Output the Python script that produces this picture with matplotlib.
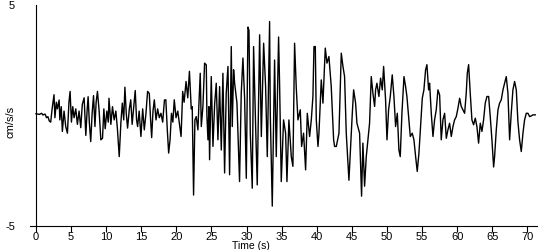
import matplotlib
matplotlib.use("Agg")
import matplotlib.pyplot as plt

# 读图得到的加速度记录 (时间 s, 加速度 cm/s/s)
time_s = [
    0.0, 0.5, 0.8, 1.0, 1.14, 1.3, 1.5, 1.7, 1.9, 2.1, 2.3, 2.57, 2.7, 2.9, 3.05, 3.3, 3.4, 3.6,
    3.76, 4.0, 4.24, 4.48, 4.7, 4.86, 5.05, 5.24, 5.43, 5.67, 5.9, 6.14, 6.38, 6.6, 6.86, 7.1,
    7.3, 7.43, 7.6, 7.8, 8.0, 8.2, 8.4, 8.57, 8.76, 9.0, 9.24, 9.48, 9.67, 9.86, 10.1, 10.3,
    10.4, 10.67, 10.9, 11.14, 11.38, 11.6, 11.86, 12.1, 12.3, 12.5, 12.67, 12.86, 13.05, 13.3,
    13.5, 13.7, 13.9, 14.14, 14.33, 14.48, 14.7, 14.95, 15.2, 15.43, 15.67, 15.9, 16.14, 16.33,
    16.48, 16.67, 16.86, 17.1, 17.33, 17.57, 17.8, 18.05, 18.3, 18.5, 18.7, 18.9, 19.1, 19.3,
    19.5, 19.7, 19.95, 20.2, 20.4, 20.67, 20.9, 21.1, 21.38, 21.62, 21.86,
    22.12, 22.26, 22.45, 22.64, 22.83, 23.07, 23.21, 23.4, 23.55, 23.78, 24.02, 24.26, 24.35,
    24.5, 24.64, 24.73, 24.97, 25.21, 25.45, 25.68, 25.92, 26.16, 26.4, 26.63, 26.87, 27.1,
    27.35, 27.58, 27.82, 27.96, 28.15, 28.3, 28.63, 29.0, 29.24, 29.48, 29.72, 29.96, 30.2,
    30.34, 30.53, 30.81, 31.0, 31.29, 31.52, 31.86, 32.1, 32.43, 32.71, 32.95, 33.28, 33.38,
    33.66, 33.99, 34.23, 34.56, 34.7, 34.94, 35.27, 35.56, 35.75, 36.03, 36.37, 36.6, 36.84,
    37.08, 37.32, 37.65, 37.84, 38.12, 38.41, 38.65, 38.98, 39.22, 39.45, 39.6, 39.79, 39.93,
    40.17, 40.31, 40.64, 40.88, 41.21, 41.45, 41.73, 42.06, 42.4, 42.54, 42.78, 43.16, 43.49,
    43.73, 43.96, 44.2, 44.58, 44.77, 45.06, 45.25, 45.53, 45.72, 46.1, 46.38,
    46.57, 46.81, 47.05, 47.29, 47.52, 47.76, 48.0, 48.24, 48.38, 48.57, 48.85, 49.09, 49.33,
    49.52, 49.8, 50.0, 50.23, 50.47, 50.75, 50.99, 51.23, 51.47, 51.7, 51.89, 52.13, 52.42,
    52.65, 52.84, 53.13, 53.32, 53.6, 53.84, 54.08, 54.31, 54.55, 54.79, 55.03, 55.26, 55.5,
    55.69, 55.93, 56.07, 56.31, 56.55, 56.78, 57.02, 57.26, 57.5, 57.73, 57.97, 58.21, 58.45,
    58.68, 58.92, 59.16, 59.4, 59.63, 59.87, 60.11, 60.35, 60.58, 60.82, 61.06, 61.29, 61.44,
    61.63, 61.86, 62.1, 62.34, 62.58, 62.81, 63.05, 63.29, 63.53, 63.76, 64.0, 64.24, 64.48,
    64.71, 64.95, 65.19, 65.33, 65.57, 65.81, 66.04, 66.28, 66.52, 66.76, 66.99, 67.23, 67.47,
    67.7, 67.94, 68.18, 68.42, 68.65, 68.89, 69.13, 69.37, 69.6, 69.84, 70.08, 70.32, 70.55,
    70.79, 71.12,
]
accel = [
    0.08, 0.05, 0.1, 0.02, 0.05, 0.06, -0.1, -0.05, -0.25, -0.3, 0.3, 0.94, -0.1, 0.6, 0.3, 0.7, -0.2, 0.4,
    -0.72, 0.2, -0.5, -0.8, 0.6, 1.09, -0.3, 0.4, -0.1, 0.3, -0.4, 0.2, -0.55, 0.5, 0.8, -0.9,
    0.3, 0.85, -0.3, -1.18, 0.1, 0.9, -0.5, 0.6, 1.09, 0.2, -1.1, -1.03, 0.3, -0.6, 0.2, -0.3,
    0.78, -0.4, 0.4, -0.2, 0.2, -0.6, -1.86, -0.3, 0.56, -0.2, 1.28, 0.1, -0.57, 0.3,
    0.71, -0.4, 0.3, 1.13, -0.2, -0.5, 0.2, -0.95, 0.3, -0.65, 0.1, 1.09, 1.0, -0.2,
    -1.0, 0.2, 0.71, -0.2, 0.3, -0.1, 0.1, -0.3, 0.7, 0.71, -0.6, -1.7, -1.1, 0.1,
    -0.3, 0.71, -0.1, 0.2, -0.3, -0.95, 1.09, 0.6, 1.54, 0.8, 2.0,
    0.3, 0.4, -3.6, -0.2, -0.05, -0.65, 0.5, 1.91, -0.5, 0.41, 2.37, 2.29, 0.0,
    -1.1, 0.4, -2.0, 1.76, -1.4, 0.5, 1.46, -1.1, 1.31, -1.56, 1.91, -2.6, 1.0,
    2.22, -2.68, 3.12, -0.5, 2.07, 1.46, 0.56, -2.99, 1.0, 2.6, 0.78, -2.84, 4.0,
    3.85, -0.8, -3.29, 3.12, -0.5, -3.14, 3.65, -0.95, 3.27, 1.31, -1.86, 4.25, 0.0,
    -4.1, 2.51, -1.86, 3.55, 1.46, -2.99, -0.2, -0.8, -2.99, -0.2, -1.86, -2.3, 3.27,
    1.24, -0.2, 0.26, -1.4, -0.8, -2.46, 0.1, -0.95, -0.2, 0.86, 3.12, 3.12, -0.2,
    -1.4, -0.8, 1.61, 0.56, 3.05, 2.37, 2.67, 1.31, -1.1, -1.4, -1.4, -0.8, 2.82,
    2.22, 1.76, -0.8, -2.93, -1.7, 0.1, 1.16, 0.56, -0.35, -0.8, -3.65,
    -1.25, -3.2, -1.86, -1.1, -0.35, 1.76, 1.0, 0.41, 1.16, 1.46, 0.86, 1.69, 1.16,
    2.22, 0.71, -1.1, 0.26, 0.86, 1.84, 0.86, -0.5, 0.1, -1.56, -1.86, 0.1, 1.76,
    1.31, 0.86, -0.2, -0.95, -0.8, -1.1, -1.86, -2.53, -1.71, -0.5, 0.78, 1.16, 2.07,
    2.3, 1.16, 1.46, 0.1, -0.95, -0.2, 0.26, 1.16, 0.93, -1.1, -0.2, 0.1, -1.03,
    -0.65, -0.35, -0.95, -0.5, -0.2, -0.05, 0.33, 0.78, 0.41, 0.26, 0.1, 1.01, 1.91,
    2.3, 1.01, -0.2, -0.42, -0.12, -0.5, -1.25, -0.35, -0.72, -0.2, 0.56, 0.86, 0.86,
    -0.05, -1.1, -2.33, -1.86, -0.65, 0.26, 0.56, 0.71, 1.16, 1.46, 1.76, 1.01, -1.1,
    0.1, 1.16, 1.54, 1.16, -0.27, -1.1, -1.63, -0.8, -0.2, 0.1, 0.1, -0.05, -0.02,
    0.03, 0.03,
]

x_ticks = [0, 5, 10, 15, 20, 25, 30, 35, 40, 45, 50, 55, 60, 65, 70]
y_ticks = [-5, 5]

plt.rcParams['font.family'] = ['Liberation Sans', 'DejaVu Sans']
plt.rcParams['axes.unicode_minus'] = False

fig = plt.figure(figsize=(5.5, 2.5), dpi=100)
ax = fig.add_axes([30 / 550, 24 / 250, 507 / 550, 221 / 250])

ax.plot(time_s, accel, color='black', linewidth=1.0)

# x轴向左略伸出 y 轴
ax.set_xlim(-0.85, 71.37)
ax.set_ylim(-5, 5)
ax.spines['left'].set_position(('data', 0))
ax.set_xticks(x_ticks)
ax.set_yticks(y_ticks)
ax.tick_params(axis='x', length=4, width=0.8, pad=0.5, labelsize=8)
ax.tick_params(axis='y', length=0, pad=15, labelsize=8)

for side in ['top', 'right']:
    ax.spines[side].set_visible(False)
for side in ['left', 'bottom']:
    ax.spines[side].set_linewidth(0.8)

ax.set_xlabel('Time (s)', fontsize=7.5, labelpad=0)
ax.xaxis.set_label_coords(0.435, -0.068)
ax.set_ylabel('cm/s/s', fontsize=8)
ax.yaxis.set_label_coords(-0.028, 0.473)

fig.savefig('out.png', dpi=100)
